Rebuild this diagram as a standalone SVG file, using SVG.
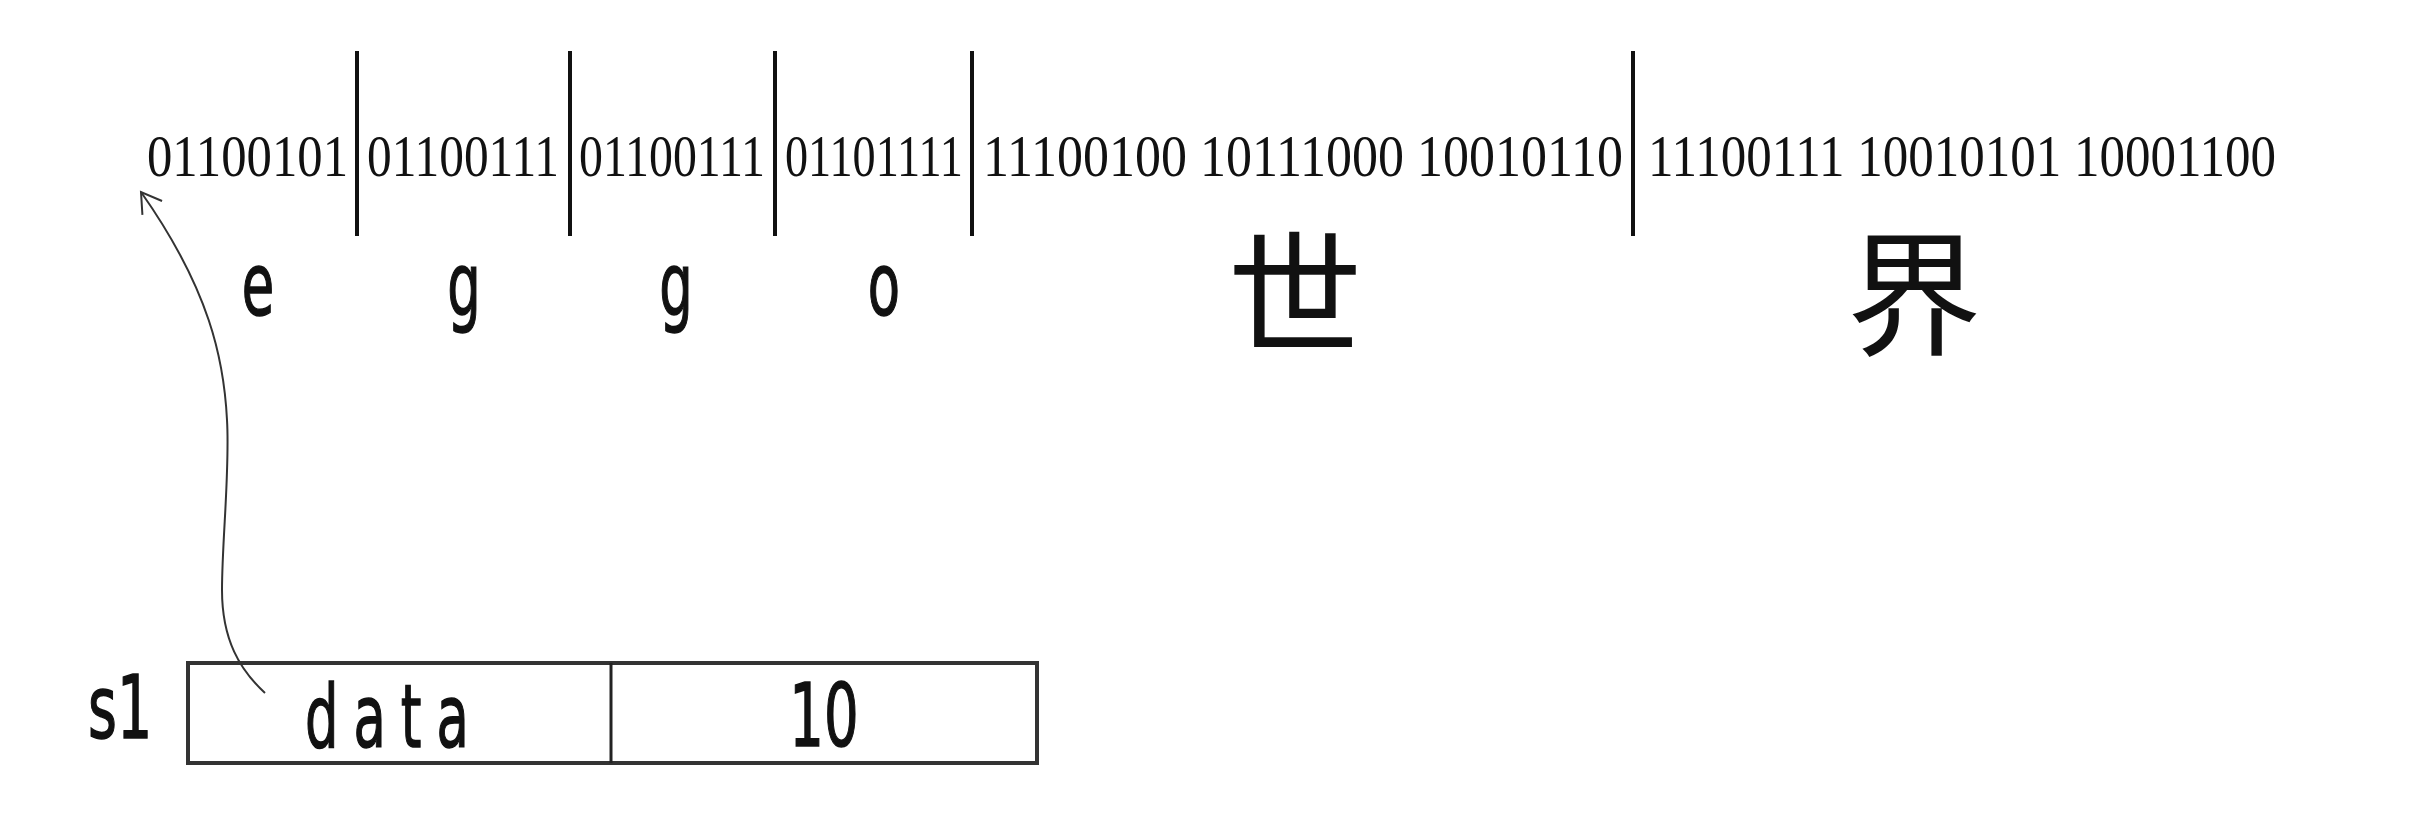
<svg xmlns="http://www.w3.org/2000/svg" width="2416" height="830" viewBox="0 0 2416 830">
<style>
.bin{font-family:"Liberation Serif","DejaVu Serif",serif;font-size:50px;fill:#111}
.sep{stroke:#111;stroke-width:4;fill:none}
.ch{font-family:"DejaVu Sans","Liberation Sans",sans-serif;font-size:88px;fill:#111;stroke:#111;stroke-width:1.5}
.cjk{font-family:"Noto Sans CJK SC","Noto Sans CJK TC",sans-serif;font-size:135px;fill:#111;text-anchor:middle}
.box{fill:#fff;stroke:#333;stroke-width:4}
.div{stroke:#222;stroke-width:3}
.conn{fill:none;stroke:#333;stroke-width:2}
</style>
<defs>
<marker id="arr" markerUnits="userSpaceOnUse" markerWidth="40" markerHeight="40" viewBox="-30 -20 40 40" refX="0" refY="0" orient="auto" overflow="visible">
<path d="M -19.5 -12 L 0 0 L -19.5 12" fill="none" stroke="#333" stroke-width="2"/>
</marker>
</defs>
<rect width="2416" height="830" fill="#fff"/>
<g id="bytes" transform="translate(0,176) scale(1,1.2)">
<text class="bin" x="147" y="0" textLength="201" lengthAdjust="spacingAndGlyphs">01100101</text>
<text class="bin" x="367" y="0" textLength="192" lengthAdjust="spacingAndGlyphs">01100111</text>
<text class="bin" x="579" y="0" textLength="186" lengthAdjust="spacingAndGlyphs">01100111</text>
<text class="bin" x="785" y="0" textLength="178" lengthAdjust="spacingAndGlyphs">01101111</text>
<text class="bin" x="983" y="0" textLength="640" lengthAdjust="spacingAndGlyphs">11100100 10111000 10010110</text>
<text class="bin" x="1648" y="0" textLength="628" lengthAdjust="spacingAndGlyphs">11100111 10010101 10001100</text>
</g>
<g id="separators">
<line class="sep" x1="357" y1="51" x2="357" y2="236"/>
<line class="sep" x1="570" y1="51" x2="570" y2="236"/>
<line class="sep" x1="775" y1="51" x2="775" y2="236"/>
<line class="sep" x1="972" y1="51" x2="972" y2="236"/>
<line class="sep" x1="1633" y1="51" x2="1633" y2="236"/>
</g>
<g id="chars">
<text class="ch" text-anchor="middle" transform="translate(258,315) scale(0.6,1)">e</text>
<text class="ch" text-anchor="middle" transform="translate(464,315) scale(0.6,1)">g</text>
<text class="ch" text-anchor="middle" transform="translate(676,315) scale(0.6,1)">g</text>
<text class="ch" text-anchor="middle" transform="translate(884,315) scale(0.6,1)">o</text>
<text class="cjk" x="1295" y="345">世</text>
<text class="cjk" x="1914" y="345">界</text>
</g>
<g id="s1">
<text class="ch" font-size="96" transform="translate(88,738) scale(0.6,1)" textLength="107" lengthAdjust="spacingAndGlyphs">s1</text>
<rect class="box" x="188" y="663" width="849" height="100"/>
<line class="div" x1="611" y1="663" x2="611" y2="763"/>
<g transform="translate(305,747) scale(0.6,1)"><text class="ch" font-size="92" x="0" y="0" textLength="273" lengthAdjust="spacing">data</text></g>
<text class="ch" text-anchor="middle" transform="translate(824,746) scale(0.62,1)">10</text>
</g>
<g id="connectors">
<path class="conn" d="M 265 693 C 240 670, 222 640, 222 590 C 222 540, 230 470, 227 420 C 224 360, 210 290, 141 192" marker-end="url(#arr)"/>
</g>
</svg>
